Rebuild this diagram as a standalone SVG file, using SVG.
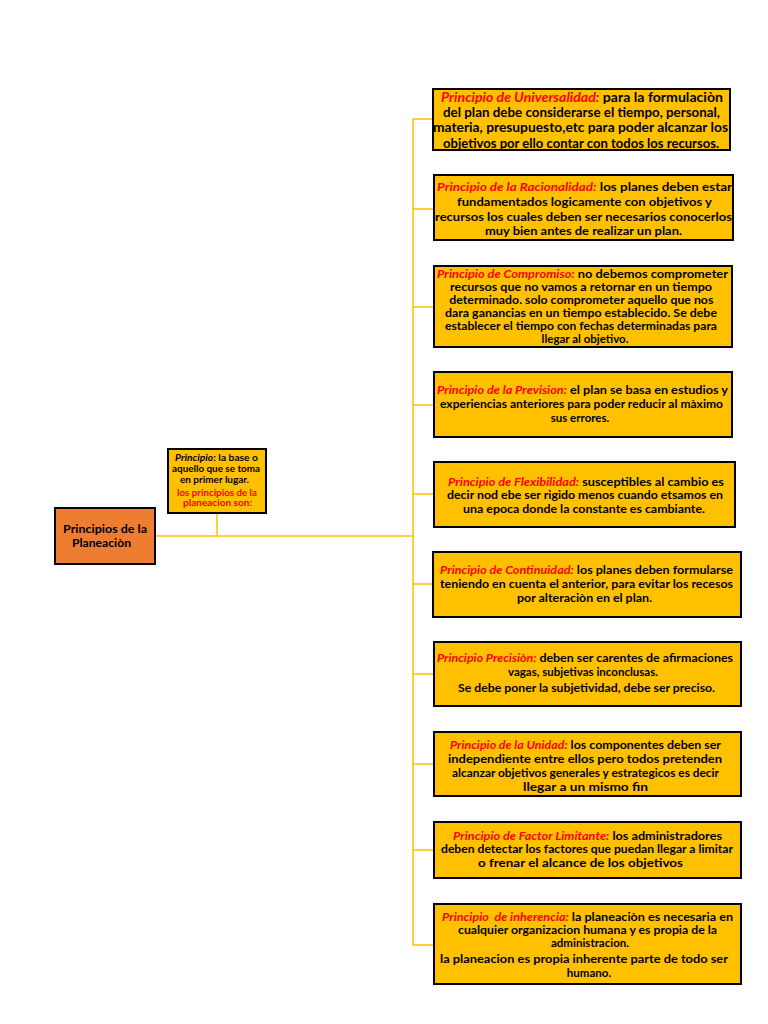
<svg xmlns="http://www.w3.org/2000/svg" width="768" height="1024" viewBox="0 0 768 1024">
<style>
.box{fill:#FFC000;stroke:#000;stroke-width:2}
.main{fill:#ED7D31;stroke:#000;stroke-width:2}
text{font-family:Lato,"Liberation Sans",sans-serif;font-weight:bold;fill:#000;text-anchor:middle}
.r{fill:#FF0000;font-style:italic}
.i{font-style:italic}
.f13{font-size:13px}
.f11{font-size:11.5px}
.f12{font-size:12px}
.f9{font-size:8.5px}
.con{stroke:#FFC000;stroke-width:1.5;fill:none}
</style>
<rect width="768" height="1024" fill="#fff"/>
<g id="connectors">
<path class="con" d="M155 536H413M217 513V536M413 119V945"/>
<path class="con" d="M413 119H433M413 209H434M413 307H434M413 405H434M413 494H434M413 584H433M413 674H434M413 764H434M413 850H434M413 945H434"/>
</g>
<g id="main">
<rect class="main" x="55" y="508" width="100" height="56"/>
<text class="f12" x="105" y="533" textLength="84" lengthAdjust="spacingAndGlyphs">Principios de la</text>
<text class="f12" x="101.5" y="547" textLength="59" lengthAdjust="spacingAndGlyphs">Planeaciòn</text>
</g>
<g id="def">
<rect class="box" x="168" y="449" width="98" height="64"/>
<text class="f9" x="216.5" y="461" textLength="83" lengthAdjust="spacingAndGlyphs"><tspan class="i">Principio</tspan>: la base o</text>
<text class="f9" x="216" y="472" textLength="88" lengthAdjust="spacingAndGlyphs">aquello que se toma</text>
<text class="f9" x="214.5" y="483" textLength="69" lengthAdjust="spacingAndGlyphs">en primer lugar.</text>
<text class="f9" x="217" y="496" textLength="80" lengthAdjust="spacingAndGlyphs" style="fill:#FF0000">los principios de la</text>
<text class="f9" x="217.5" y="506" textLength="69" lengthAdjust="spacingAndGlyphs" style="fill:#FF0000">planeacion son:</text>
</g>
<g id="p1">
<rect class="box" x="433" y="89" width="297" height="61"/>
<text class="f13" x="582" y="101.5" textLength="282" lengthAdjust="spacingAndGlyphs"><tspan class="r">Principio de Universalidad:</tspan> para la formulaciòn</text>
<text class="f13" x="581.5" y="117" textLength="277" lengthAdjust="spacingAndGlyphs">del plan debe considerarse el tiempo, personal,</text>
<text class="f13" x="580.5" y="132" textLength="295" lengthAdjust="spacingAndGlyphs">materia, presupuesto,etc para poder alcanzar los</text>
<text class="f13" x="581" y="147.5" textLength="276" lengthAdjust="spacingAndGlyphs">objetivos por ello contar con todos los recursos.</text>
</g>
<g id="p2">
<rect class="box" x="434" y="175" width="299" height="65"/>
<text class="f11" x="584.5" y="191" textLength="295" lengthAdjust="spacingAndGlyphs"><tspan class="r">Principio de la Racionalidad:</tspan> los planes deben estar</text>
<text class="f11" x="584.5" y="206" textLength="255" lengthAdjust="spacingAndGlyphs">fundamentados logicamente con objetivos y</text>
<text class="f11" x="583.5" y="221" textLength="297" lengthAdjust="spacingAndGlyphs">recursos los cuales deben ser necesarios conocerlos</text>
<text class="f11" x="583.5" y="235" textLength="197" lengthAdjust="spacingAndGlyphs">muy bien antes de realizar un plan.</text>
</g>
<g id="p3">
<rect class="box" x="434" y="266" width="298" height="81"/>
<text class="f11" x="582.5" y="278" textLength="291" lengthAdjust="spacingAndGlyphs"><tspan class="r">Principio de Compromiso:</tspan> no debemos comprometer</text>
<text class="f11" x="581" y="291" textLength="262" lengthAdjust="spacingAndGlyphs">recursos que no vamos a retornar en un tiempo</text>
<text class="f11" x="581.3" y="304" textLength="264" lengthAdjust="spacingAndGlyphs">determinado. solo comprometer aquello que nos</text>
<text class="f11" x="581" y="317" textLength="272" lengthAdjust="spacingAndGlyphs">dara ganancias en un tiempo establecido. Se debe</text>
<text class="f11" x="581" y="330" textLength="272" lengthAdjust="spacingAndGlyphs">establecer el tiempo con fechas determinadas para</text>
<text class="f11" x="585" y="343">llegar al objetivo.</text>
</g>
<g id="p4">
<rect class="box" x="434" y="372" width="298" height="65"/>
<text class="f11" x="582.5" y="394" textLength="291" lengthAdjust="spacingAndGlyphs"><tspan class="r">Principio de la Prevision:</tspan> el plan se basa en estudios y</text>
<text class="f11" x="581.5" y="408" textLength="283" lengthAdjust="spacingAndGlyphs">experiencias anteriores para poder reducir al màximo</text>
<text class="f11" x="580" y="422">sus errores.</text>
</g>
<g id="p5">
<rect class="box" x="434" y="462" width="301" height="65"/>
<text class="f11" x="586" y="486" textLength="276" lengthAdjust="spacingAndGlyphs"><tspan class="r">Principio de Flexibilidad:</tspan> susceptibles al cambio es</text>
<text class="f11" x="585" y="499" textLength="276" lengthAdjust="spacingAndGlyphs">decir nod ebe ser rigido menos cuando etsamos en</text>
<text class="f11" x="584" y="513" textLength="242" lengthAdjust="spacingAndGlyphs">una epoca donde la constante es cambiante.</text>
</g>
<g id="p6">
<rect class="box" x="433" y="552" width="308" height="65"/>
<text class="f11" x="586.5" y="574" textLength="293" lengthAdjust="spacingAndGlyphs"><tspan class="r">Principio de Continuidad:</tspan> los planes deben formularse</text>
<text class="f11" x="586.5" y="588" textLength="293" lengthAdjust="spacingAndGlyphs">teniendo en cuenta el anterior, para evitar los recesos</text>
<text class="f11" x="584.5" y="602" textLength="135" lengthAdjust="spacingAndGlyphs">por alteraciòn en el plan.</text>
</g>
<g id="p7">
<rect class="box" x="434" y="642" width="307" height="64"/>
<text class="f11" x="585" y="662" textLength="296" lengthAdjust="spacingAndGlyphs"><tspan class="r">Principio Precisiòn:</tspan> deben ser carentes de afirmaciones</text>
<text class="f11" x="583" y="676" textLength="150" lengthAdjust="spacingAndGlyphs">vagas, subjetivas inconclusas.</text>
<text class="f11" x="586.5" y="692" textLength="257" lengthAdjust="spacingAndGlyphs">Se debe poner la subjetividad, debe ser preciso.</text>
</g>
<g id="p8">
<rect class="box" x="434" y="732" width="307" height="64"/>
<text class="f11" x="585.5" y="749" textLength="271" lengthAdjust="spacingAndGlyphs"><tspan class="r">Principio de la Unidad:</tspan> los componentes deben ser</text>
<text class="f11" x="585" y="763" textLength="274" lengthAdjust="spacingAndGlyphs">independiente entre ellos pero todos pretenden</text>
<text class="f11" x="585.5" y="777" textLength="267" lengthAdjust="spacingAndGlyphs">alcanzar objetivos generales y estrategicos es decir</text>
<text class="f11" x="585.5" y="791" textLength="125" lengthAdjust="spacingAndGlyphs">llegar a un mismo fin</text>
</g>
<g id="p9">
<rect class="box" x="434" y="822" width="307" height="56"/>
<text class="f11" x="587.5" y="840" textLength="269" lengthAdjust="spacingAndGlyphs"><tspan class="r">Principio de Factor Limitante:</tspan> los administradores</text>
<text class="f11" x="587" y="853" textLength="292" lengthAdjust="spacingAndGlyphs">deben detectar los factores que puedan llegar a limitar</text>
<text class="f11" x="580.5" y="867" textLength="205" lengthAdjust="spacingAndGlyphs">o frenar el alcance de los objetivos</text>
</g>
<g id="p10">
<rect class="box" x="434" y="904" width="307" height="80"/>
<text class="f11" x="587.5" y="921" textLength="291" lengthAdjust="spacingAndGlyphs" xml:space="preserve"><tspan class="r">Principio  de inherencia:</tspan> la planeaciòn es necesaria en</text>
<text class="f11" x="587.5" y="934" textLength="259" lengthAdjust="spacingAndGlyphs">cualquier organizacion humana y es propia de la</text>
<text class="f11" x="590" y="947">administracion.</text>
<text class="f11" x="584" y="963" textLength="288" lengthAdjust="spacingAndGlyphs">la planeacion es propia inherente parte de todo ser</text>
<text class="f11" x="589" y="977">humano.</text>
</g>
</svg>
